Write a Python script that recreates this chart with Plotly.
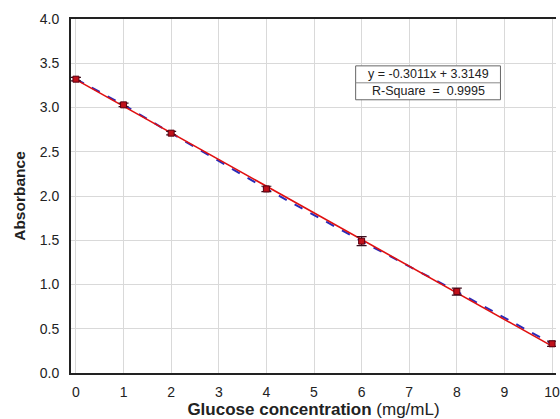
import plotly.graph_objects as go

conc = [0, 1, 2, 4, 6, 8, 10]
absorb = [3.32, 3.03, 2.71, 2.08, 1.49, 0.92, 0.33]
err = [0.02, 0.02, 0.02, 0.03, 0.05, 0.04, 0.03]
slope = -0.3011
intercept = 3.3149
fit_x = [0, 10]
fit_y = [slope * x + intercept for x in fit_x]
eq_lines = ["y = -0.3011x + 3.3149", "R-Square  =  0.9995"]

L, T, B = 71, 19, 374
PW, PH = 560 - L, B - T


def px(x):
    return (x - L) / PW


def py(y):
    return (B - y) / PH


fig = go.Figure()
fig.add_trace(go.Scatter(x=conc, y=absorb, mode="lines",
                         line=dict(color="#2b2bb8", width=2, dash="dash"),
                         showlegend=False))
fig.add_trace(go.Scatter(x=fit_x, y=fit_y, mode="lines",
                         line=dict(color="#e01010", width=1.6),
                         showlegend=False))
fig.add_trace(go.Scatter(x=conc, y=absorb, mode="markers",
                         marker=dict(symbol="square", size=6, color="#c0101a",
                                     line=dict(color="#5a0010", width=1)),
                         error_y=dict(type="data", array=err, visible=True,
                                      color="#3a1020", thickness=1.2, width=5),
                         showlegend=False))

# equation box
fig.add_shape(type="rect", xref="paper", yref="paper",
              x0=px(358), x1=px(504), y0=py(100), y1=py(66),
              line=dict(color="#666666", width=1), fillcolor="white")
fig.add_shape(type="line", xref="paper", yref="paper",
              x0=px(358), x1=px(504), y0=py(83), y1=py(83),
              line=dict(color="#888888", width=1))
for txt, yc in zip(eq_lines, [74.5, 91.5]):
    fig.add_annotation(xref="paper", yref="paper", x=px(431), y=py(yc),
                       xanchor="center", yanchor="middle",
                       text=txt, showarrow=False,
                       font=dict(family="Liberation Sans, Arial", size=12.5, color="#222"))

fig.update_layout(
    width=560, height=419,
    margin=dict(l=L, r=0, t=T, b=419 - B),
    paper_bgcolor="white", plot_bgcolor="white",
    font=dict(family="Liberation Sans, Arial", size=14, color="#222"),
    xaxis=dict(range=[-0.104, 10.083], tickmode="linear", tick0=0, dtick=1,
               showgrid=True, gridcolor="#d9d9d9", gridwidth=1,
               showline=True, linecolor="#222", linewidth=2, mirror=True,
               zeroline=False, ticks="", ticklabelstandoff=5,
               ticklabeloverflow="allow",
               title=dict(text="<b>Glucose concentration</b> (mg/mL)",
                          font=dict(size=17), standoff=7)),
    yaxis=dict(range=[0, 4], tickmode="linear", tick0=0, dtick=0.5,
               tickformat=".1f",
               showgrid=True, gridcolor="#d9d9d9", gridwidth=1,
               showline=True, linecolor="#222", linewidth=2,
               zeroline=False, ticks="", ticklabelstandoff=7,
               title=dict(text="<b>Absorbance</b>", font=dict(size=15.5), standoff=10)),
)

fig.write_html("out.html", config={"displayModeBar": False},
               post_script="document.body.style.margin='0';")
